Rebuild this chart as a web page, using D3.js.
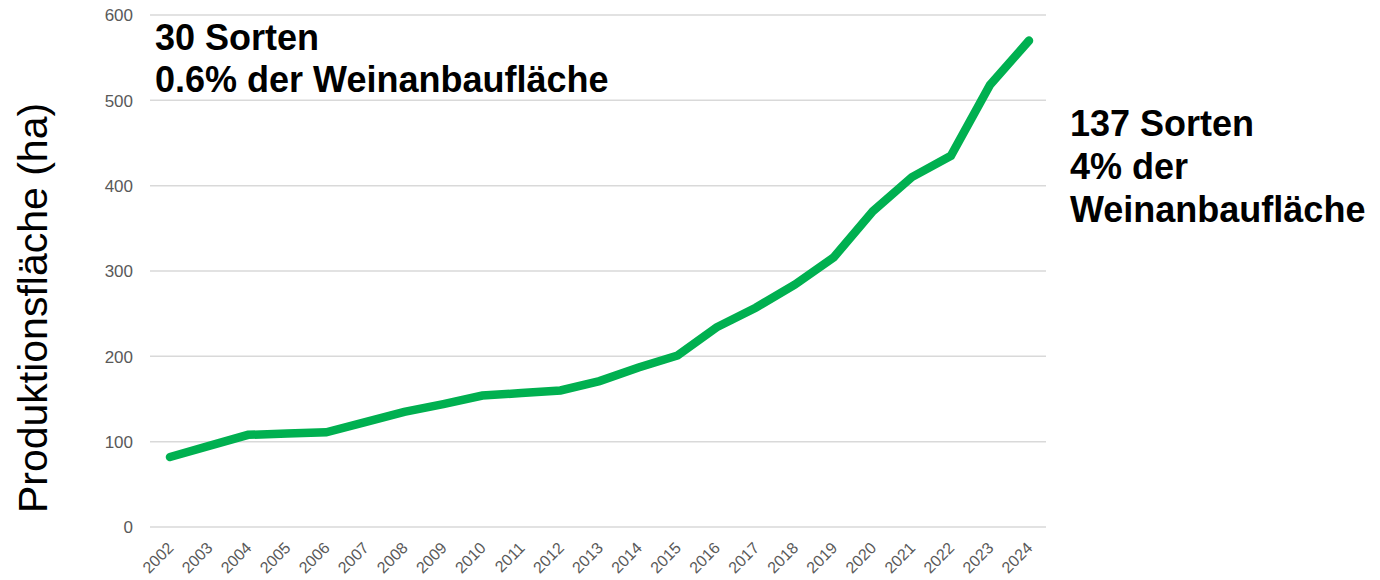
<!DOCTYPE html>
<html><head><meta charset="utf-8">
<script src="https://cdn.jsdelivr.net/npm/d3@7"></script>
<style>body{margin:0;background:#fff}svg{display:block;font-family:"Liberation Sans",Arial,sans-serif}</style>
</head><body><svg id="c" width="1380" height="580"></svg>
<script>
const years = ["2002","2003","2004","2005","2006","2007","2008","2009","2010","2011","2012","2013","2014","2015","2016","2017","2018","2019","2020","2021","2022","2023","2024"];
const area = [82,95,108,109.5,111,123,135,144,154,157,160,171,187,201,234,257,284,316,370,410,435,518,570];
const yTicks = [0,100,200,300,400,500,600];
const yTitle = "Produktionsfläche (ha)";
const noteLeft = ["30 Sorten","0.6% der Weinanbaufläche"];
const noteRight = ["137 Sorten","4% der","Weinanbaufläche"];

const FONT = "Liberation Sans, Arial, sans-serif";
const svg = d3.select("#c");
const x0 = 150, x1 = 1046, yTop = 15, yBot = 527;
const x = d3.scalePoint().domain(years).range([170, 1029]);
const y = d3.scaleLinear().domain([0,600]).range([yBot, yTop]);

// gridlines
svg.append("g").selectAll("line").data(yTicks).join("line")
  .attr("x1", x0).attr("x2", x1)
  .attr("y1", d=>y(d)).attr("y2", d=>y(d))
  .attr("stroke", "#d9d9d9").attr("stroke-width", 1.5);

// y axis labels
const ya = svg.append("g").attr("transform", `translate(${x0},0)`)
  .call(d3.axisLeft(y).tickValues(yTicks).tickSize(0).tickPadding(17))
  .attr("font-size", 17).attr("font-family", FONT);
ya.select(".domain").remove();
ya.selectAll("text").attr("fill", "#595959").attr("font-size", 17).attr("font-family", FONT).attr("dy", "0.35em");

// x axis labels
const xa = svg.append("g").attr("transform", `translate(0,${yBot})`)
  .call(d3.axisBottom(x).tickSize(0).tickPadding(0))
  .attr("font-size", 16).attr("font-family", FONT);
xa.select(".domain").remove();
xa.selectAll("text")
  .attr("fill", "#595959").attr("font-size", 16).attr("font-family", FONT)
  .attr("text-anchor", "end").attr("dy", "0")
  .attr("transform", "translate(4,22) rotate(-45)");

// line
svg.append("path").datum(area)
  .attr("fill", "none").attr("stroke", "#00b050").attr("stroke-width", 8.5)
  .attr("stroke-linecap", "round").attr("stroke-linejoin", "miter")
  .attr("d", d3.line().x((d,i)=>x(years[i])).y(d=>y(d)));

// y title
svg.append("text").attr("transform", "translate(47,308) rotate(-90)")
  .attr("text-anchor", "middle").attr("fill", "#000").attr("font-family", FONT)
  .attr("font-size", 41).text(yTitle);

// notes
svg.append("g").selectAll("text").data(noteLeft).join("text")
  .attr("x", 155).attr("y", (d,i)=>50 + i*42).attr("font-family", FONT)
  .attr("font-size", 36).attr("font-weight", "bold").attr("fill", "#000").text(d=>d);
svg.append("g").selectAll("text").data(noteRight).join("text")
  .attr("x", 1070).attr("y", (d,i)=>136 + i*43).attr("font-family", FONT)
  .attr("font-size", 36).attr("font-weight", "bold").attr("fill", "#000").text(d=>d);
</script></body></html>
